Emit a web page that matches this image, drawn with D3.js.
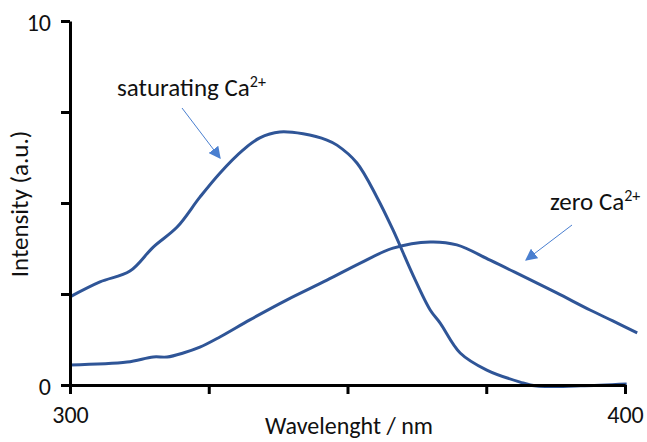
<!DOCTYPE html>
<html lang="en">
<head>
    <meta charset="UTF-8">
    <title>Intensity vs Wavelength</title>
    <script src="https://d3js.org/d3.v7.min.js"></script>
    <style>
        body { margin: 0; background: #fff; }
        text { font-family: Carlito, Lato, "Open Sans", sans-serif; fill: #111; }
    </style>
</head>
<body>
<div id="chart"></div>
<script>
// Wavelength (nm) and intensity values
var satWavelength = [300, 305.4, 310.8, 315, 319.3, 323.4, 327, 331.2, 334.2, 337.8, 342, 346.3, 348.1, 351.7, 355.3, 358.2, 361.8, 364.9, 366.7, 370.3, 375.1, 381.1, 384.1, 392, 400.3];
var satIntensity  = [2.42, 2.83, 3.13, 3.79, 4.34, 5.16, 5.82, 6.46, 6.79, 6.95, 6.90, 6.73, 6.59, 6.10, 5.16, 4.26, 3.02, 2.06, 1.70, 0.88, 0.41, 0.08, -0.03, -0.02, 0.03];

var zeroWavelength = [300, 310.3, 315, 317.5, 320.4, 323.4, 327, 332.4, 339.1, 346.3, 352.3, 358.2, 364.9, 369.7, 375.7, 381.6, 387.7, 393.7, 397.8, 402.2];
var zeroIntensity  = [0.55, 0.63, 0.77, 0.77, 0.88, 1.04, 1.32, 1.79, 2.34, 2.88, 3.35, 3.76, 3.93, 3.85, 3.43, 2.99, 2.53, 2.06, 1.76, 1.43];

var xTicks = [300, 325, 350, 375, 400];
var yTicks = [0, 2.5, 5, 7.5, 10];
var xTickLabels = {300: "300", 400: "400"};
var yTickLabels = {0: "0", 10: "10"};

var width = 647, height = 442;
var lineColor = "#2f5597", arrowColor = "#4a7fd0";

var x = d3.scaleLinear().domain([300, 400]).range([70, 625]);
var y = d3.scaleLinear().domain([0, 10]).range([385, 21]);

var svg = d3.select("#chart").append("svg")
    .attr("width", width).attr("height", height);

// arrow head marker
svg.append("defs").append("marker")
    .attr("id", "head")
    .attr("viewBox", "0 0 10 10")
    .attr("refX", 9).attr("refY", 5)
    .attr("markerWidth", 12).attr("markerHeight", 12)
    .attr("markerUnits", "userSpaceOnUse")
    .attr("orient", "auto")
    .append("path").attr("d", "M0,0 L10,5 L0,10 z").attr("fill", arrowColor);

// curves
var line = d3.line()
    .x(function(d) { return x(d[0]); })
    .y(function(d) { return y(d[1]); })
    .curve(d3.curveCatmullRom.alpha(0.5));

function pairs(a, b) { return a.map(function(v, i) { return [v, b[i]]; }); }

svg.append("path").datum(pairs(satWavelength, satIntensity))
    .attr("d", line).attr("fill", "none")
    .attr("stroke", lineColor).attr("stroke-width", 3);
svg.append("path").datum(pairs(zeroWavelength, zeroIntensity))
    .attr("d", line).attr("fill", "none")
    .attr("stroke", lineColor).attr("stroke-width", 3);

// axes
var xAxis = d3.axisBottom(x).tickValues(xTicks).tickSize(9).tickSizeOuter(0)
    .tickFormat(function(d) { return xTickLabels[d] || ""; });
var yAxis = d3.axisLeft(y).tickValues(yTicks).tickSize(9).tickSizeOuter(0)
    .tickFormat(function(d) { return yTickLabels[d] || ""; });

var gx = svg.append("g").attr("transform", "translate(0," + y(0) + ")").call(xAxis);
var gy = svg.append("g").attr("transform", "translate(" + x(300) + ",0)").call(yAxis);

[gx, gy].forEach(function(g) {
    g.select(".domain").attr("stroke", "#000").attr("stroke-width", 3);
    g.selectAll(".tick line").attr("stroke", "#000").attr("stroke-width", 3);
    g.selectAll(".tick text").style("font-size", "24px").attr("fill", "#111");
});
gx.selectAll(".tick text").attr("y", 38).attr("dy", 0);
gy.selectAll(".tick text").attr("x", -19).attr("dy", "0.4em");

// axis titles
svg.append("text").attr("x", 349).attr("y", 434)
    .attr("text-anchor", "middle").style("font-size", "24px")
    .text("Wavelenght / nm");
svg.append("text").attr("transform", "translate(28,204) rotate(-90)")
    .attr("text-anchor", "middle").style("font-size", "25px")
    .text("Intensity (a.u.)");

// annotations
function label(tx, ty, name) {
    var t = svg.append("text").attr("x", tx).attr("y", ty).style("font-size", "25px");
    t.append("tspan").text(name + " Ca");
    t.append("tspan").attr("dy", -9).style("font-size", "16px").text("2+");
}
label(117, 96, "saturating");
label(550, 210, "zero");

svg.append("line").attr("x1", 182).attr("y1", 108).attr("x2", 220).attr("y2", 158)
    .attr("stroke", arrowColor).attr("stroke-width", 1).attr("marker-end", "url(#head)");
svg.append("line").attr("x1", 572).attr("y1", 225).attr("x2", 526).attr("y2", 260)
    .attr("stroke", arrowColor).attr("stroke-width", 1).attr("marker-end", "url(#head)");
</script>
</body>
</html>
